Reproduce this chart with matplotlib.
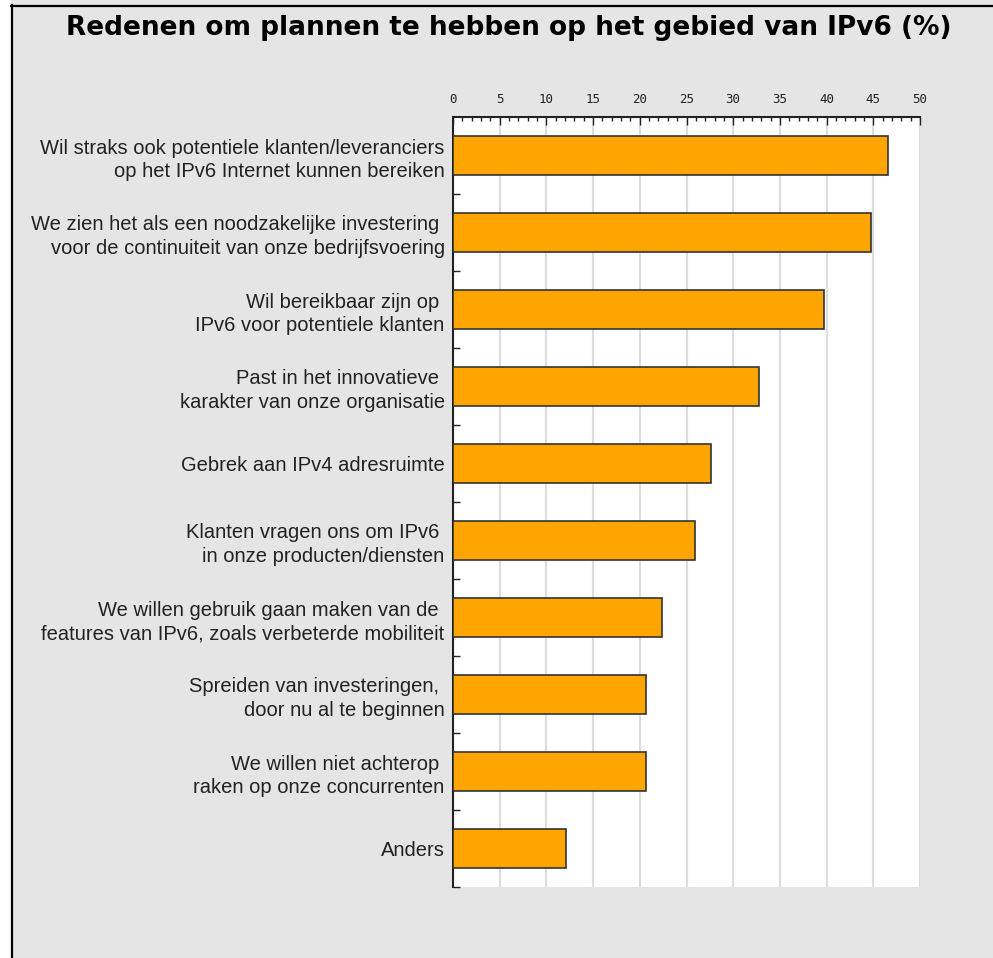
import matplotlib
matplotlib.use("Agg")
import matplotlib.pyplot as plt
from matplotlib.lines import Line2D
from matplotlib.patches import Rectangle
from matplotlib.ticker import MultipleLocator, FixedLocator

title = "Redenen om plannen te hebben op het gebied van IPv6 (%)"
categories = [
    "Wil straks ook potentiele klanten/leveranciers\nop het IPv6 Internet kunnen bereiken",
    "We zien het als een noodzakelijke investering \nvoor de continuiteit van onze bedrijfsvoering",
    "Wil bereikbaar zijn op \nIPv6 voor potentiele klanten",
    "Past in het innovatieve \nkarakter van onze organisatie",
    "Gebrek aan IPv4 adresruimte",
    "Klanten vragen ons om IPv6 \nin onze producten/diensten",
    "We willen gebruik gaan maken van de \nfeatures van IPv6, zoals verbeterde mobiliteit",
    "Spreiden van investeringen, \ndoor nu al te beginnen",
    "We willen niet achterop \nraken op onze concurrenten",
    "Anders",
]
values = [46.6, 44.8, 39.7, 32.8, 27.6, 25.9, 22.4, 20.7, 20.7, 12.1]
x_ticks = [0, 5, 10, 15, 20, 25, 30, 35, 40, 45, 50]

W, H = 993, 958
fig = plt.figure(figsize=(W / 100, H / 100), dpi=100)
fig.patch.set_facecolor("#e5e5e5")

# white strip and dark frame lines
fig.patches.append(Rectangle((0, 0), 11 / W, 1, transform=fig.transFigure,
                             facecolor="white", edgecolor="none", zorder=0))
fig.lines.append(Line2D([11.5 / W, 11.5 / W], [0, 1 - 5 / H], transform=fig.transFigure,
                        color="black", lw=1.6))
fig.lines.append(Line2D([11 / W, 1], [1 - 5.5 / H, 1 - 5.5 / H], transform=fig.transFigure,
                        color="black", lw=1.6))

ax = fig.add_axes([453 / W, 1 - 887 / H, (920 - 453) / W, (887 - 117) / H])
ax.set_facecolor("white")

ypos = list(range(len(categories)))
ax.barh(ypos, values, height=0.5, color="#ffa500", edgecolor="#333333",
        linewidth=1.2, zorder=3)

ax.set_xlim(0, 50)
ax.set_ylim(len(categories) - 0.5, -0.5)

ax.xaxis.tick_top()
ax.xaxis.set_major_locator(FixedLocator(x_ticks))
ax.xaxis.set_minor_locator(MultipleLocator(1))
ax.tick_params(axis="x", which="major", direction="in", length=5.5, width=1,
               color="#222222", labelsize=9, pad=8, labelcolor="#222222")
ax.tick_params(axis="x", which="minor", direction="in", length=3, width=1,
               color="#222222")
for lab in ax.get_xticklabels():
    lab.set_family("DejaVu Sans Mono")

ax.set_yticks(ypos)
ax.set_yticklabels(categories, fontsize=14.5, family="Liberation Sans",
                   color="#222222", linespacing=1.3)
ax.yaxis.set_minor_locator(FixedLocator([i + 0.5 for i in ypos]))
ax.tick_params(axis="y", which="major", length=0, pad=6)
ax.tick_params(axis="y", which="minor", direction="in", length=5, width=1,
               color="#222222")

ax.grid(axis="x", which="major", color="#dddddd", lw=1.5, zorder=0)
ax.set_axisbelow(True)

for s in ("right", "bottom"):
    ax.spines[s].set_visible(False)
for s in ("top", "left"):
    ax.spines[s].set_color("#222222")
    ax.spines[s].set_linewidth(1.5)

fig.text(509 / W, 1 - 28 / H, title, ha="center", va="center",
         fontsize=19, fontweight="bold", family="DejaVu Sans", color="black")

fig.savefig("out.png", dpi=100, facecolor=fig.get_facecolor())
